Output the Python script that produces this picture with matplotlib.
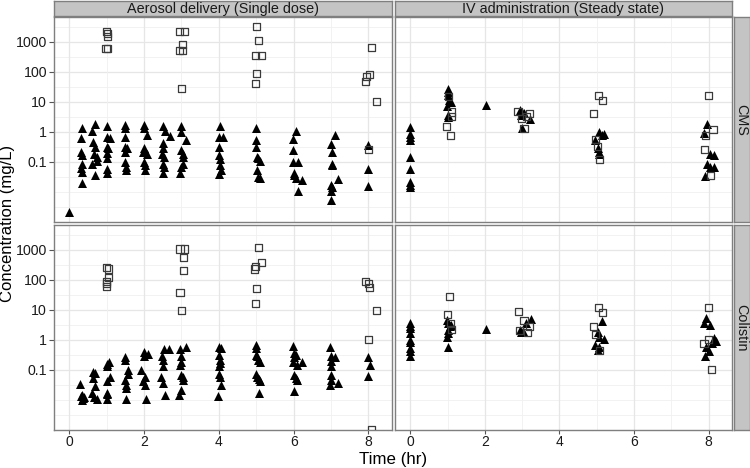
import numpy as np
import matplotlib
matplotlib.use("Agg")
import matplotlib.pyplot as plt
from matplotlib.ticker import FixedLocator, NullFormatter

plt.rcParams['font.family'] = ['Liberation Sans', 'DejaVu Sans']

# ---------------- data ----------------
col_labels = ["Aerosol delivery (Single dose)", "IV administration (Steady state)"]
row_labels = ["CMS", "Colistin"]
y_ticks = [0.1, 1, 10, 100, 1000]
y_tick_labels = ["0.1", "1", "10", "100", "1000"]
x_ticks = [0, 2, 4, 6, 8]

# CMS, aerosol: triangles (plasma) and squares (ELF)
cms_aer_tri_t = [0.0,
    0.33, 0.30, 0.31, 0.33, 0.35, 0.32, 0.34, 0.33,
    0.69, 0.60, 0.64, 0.69, 0.67, 0.73, 0.73, 0.60, 0.69,
    1.00, 1.00, 1.09, 1.00, 1.04, 1.00, 1.00, 1.00, 1.00,
    1.50, 1.50, 1.50, 1.50, 1.53, 1.50, 1.50, 1.52, 1.52,
    2.00, 2.00, 2.07, 2.00, 1.97, 2.07, 2.00, 2.03, 2.03,
    2.50, 2.55, 2.69, 2.50, 2.50, 2.48, 2.52, 2.50, 2.52, 2.50,
    3.00, 3.00, 3.12, 3.00, 3.03, 3.05, 3.03, 3.00, 2.97,
    4.03, 4.00, 4.10, 4.00, 4.00, 4.03, 4.03, 4.05, 4.00,
    5.00, 5.00, 5.00, 5.02, 5.05, 5.10, 5.03, 5.05, 5.10,
    6.06, 5.99, 5.99, 5.99, 6.12, 6.00, 6.02, 6.05, 6.21, 6.12,
    7.10, 7.00, 7.02, 7.02, 7.02, 7.19, 7.00, 7.02, 7.00, 7.00,
    8.00, 8.00, 8.00]
cms_aer_tri_v = [0.0021,
    1.3, 0.63, 0.21, 0.17, 0.088, 0.063, 0.046, 0.019,
    1.8, 1.05, 0.47, 0.32, 0.19, 0.15, 0.105, 0.088, 0.036,
    1.55, 0.68, 0.62, 0.32, 0.28, 0.2, 0.13, 0.06, 0.041,
    1.7, 1.3, 0.68, 0.32, 0.28, 0.22, 0.1, 0.068, 0.055,
    1.7, 1.3, 0.77, 0.28, 0.22, 0.19, 0.1, 0.077, 0.053,
    1.55, 1.05, 0.72, 0.41, 0.28, 0.19, 0.15, 0.088, 0.068, 0.041,
    1.55, 1.0, 0.53, 0.24, 0.19, 0.15, 0.088, 0.068, 0.041,
    1.6, 0.68, 0.66, 0.32, 0.17, 0.12, 0.077, 0.053, 0.039,
    1.3, 0.53, 0.32, 0.15, 0.13, 0.11, 0.053, 0.032, 0.028,
    1.08, 0.56, 0.24, 0.1, 0.1, 0.041, 0.036, 0.028, 0.024, 0.011,
    0.8, 0.38, 0.215, 0.088, 0.077, 0.026, 0.017, 0.015, 0.011, 0.0053,
    0.36, 0.06, 0.0155]
cms_aer_sq_t = [1.00, 1.02, 1.02, 0.98, 1.02,
    2.95, 3.09, 3.02, 2.95, 3.03, 3.00,
    5.00, 5.06, 4.97, 5.15, 5.00, 4.98,
    8.07, 8.04, 7.95, 7.93, 8.22, 7.99]
cms_aer_sq_v = [2300, 1900, 1550, 600, 600,
    2300, 2300, 810, 500, 500, 28,
    3300, 1150, 340, 360, 87, 41,
    630, 83, 72, 47, 10, 0.26]

# CMS, IV
cms_iv_tri_t = [0, 0, 0, 0, 0, 0, 0, 0, 0,
    1.00, 1.00, 1.02, 1.05, 1.10, 0.98, 1.02, 1.00,
    2.02,
    2.95, 3.00, 3.05, 2.98, 3.22, 3.00,
    5.05, 5.19, 5.14, 4.96, 5.03, 5.05, 5.07,
    7.95, 7.88, 8.03, 8.15, 7.95, 8.15, 8.03, 7.90]
cms_iv_tri_v = [1.4, 0.88, 0.68, 0.55, 0.147, 0.06, 0.0215, 0.0175, 0.0147,
    26, 21.5, 16.7, 11.4, 10, 7.2, 3.6, 3.2,
    8.1,
    5.5, 4.6, 4.1, 3.6, 2.6, 1.3,
    1.0, 0.88, 0.77, 0.53, 0.28, 0.22, 0.19,
    1.8, 0.95, 0.18, 0.167, 0.088, 0.066, 0.066, 0.033]
cms_iv_sq_t = [1.02, 1.10, 1.10, 0.96, 1.09,
    2.89, 3.20, 2.99, 3.11, 3.05,
    5.05, 5.16, 4.92, 4.98, 5.03, 5.07,
    7.99, 8.12, 7.93, 7.89, 8.05]
cms_iv_sq_v = [14.7, 4.6, 3.2, 1.55, 0.78,
    4.9, 4.1, 2.8, 3.2, 1.3,
    16.7, 11.4, 4.1, 0.55, 0.32, 0.12,
    16.5, 1.2, 0.75, 0.25, 0.034]

# Colistin, aerosol
col_aer_tri_t = [0.29, 0.33, 0.30, 0.36, 0.33, 0.38,
    0.62, 0.68, 0.64, 0.68, 0.60, 0.67, 0.73,
    1.07, 1.02, 1.02, 1.09, 1.00, 1.00, 1.00, 1.00,
    1.49, 1.50, 1.58, 1.58, 1.49, 1.52, 1.52, 1.52,
    2.00, 2.11, 2.00, 1.93, 2.02, 1.98, 2.02, 2.05,
    2.54, 2.67, 2.47, 2.50, 2.50, 2.45, 2.50, 2.56,
    3.12, 2.96, 2.98, 3.00, 2.96, 2.98, 3.05, 3.03, 3.00, 2.94,
    4.00, 4.05, 4.00, 4.02, 4.02, 4.00, 4.00, 4.03, 4.05, 3.98,
    4.98, 5.00, 4.98, 5.02, 5.05, 5.10, 4.98, 5.02, 5.06, 5.10, 5.06,
    5.98, 6.00, 6.05, 6.00, 5.99, 6.23, 6.10, 6.00, 6.05, 6.10, 6.00,
    6.98, 6.99, 7.10, 7.00, 6.99, 6.99, 7.00, 7.18, 6.98,
    8.00, 8.04, 8.00]
col_aer_tri_v = [0.034, 0.0147, 0.013, 0.0115, 0.01, 0.0125,
    0.088, 0.077, 0.053, 0.029, 0.0167, 0.012, 0.0105,
    0.19, 0.16, 0.13, 0.06, 0.041, 0.0175, 0.016, 0.0105,
    0.26, 0.22, 0.1, 0.073, 0.046, 0.032, 0.025, 0.0105,
    0.38, 0.34, 0.28, 0.1, 0.06, 0.041, 0.032, 0.0105,
    0.49, 0.49, 0.29, 0.22, 0.13, 0.06, 0.036, 0.0147,
    0.6, 0.49, 0.29, 0.19, 0.14, 0.068, 0.06, 0.047, 0.0215, 0.0147,
    0.6, 0.53, 0.32, 0.22, 0.17, 0.13, 0.074, 0.06, 0.032, 0.013,
    0.68, 0.53, 0.32, 0.28, 0.22, 0.19, 0.074, 0.06, 0.049, 0.041, 0.0175,
    0.63, 0.36, 0.32, 0.26, 0.19, 0.19, 0.14, 0.068, 0.053, 0.047, 0.019,
    0.57, 0.29, 0.26, 0.2, 0.13, 0.068, 0.047, 0.036, 0.032,
    0.26, 0.15, 0.063]
col_aer_sq_t = [1.00, 1.04, 1.04, 1.00, 0.99, 0.99,
    2.96, 3.09, 3.05, 3.05, 2.96, 2.99,
    5.05, 5.14, 4.99, 4.96, 5.01, 4.99,
    7.93, 7.99, 8.04, 8.22, 7.99, 8.08]
col_aer_sq_v = [263, 230, 123, 88, 77, 60,
    1070, 1070, 550, 200, 38, 9.3,
    1230, 390, 278, 230, 50, 16.7,
    88, 74, 57, 9.5, 1.05, 0.001]

# Colistin, IV
col_iv_tri_t = [0, 0, 0, 0, 0, 0, 0, 0, 0,
    0.99, 1.00, 1.10, 1.06, 1.00, 1.00, 0.99, 1.02,
    2.02,
    3.23, 3.11, 2.93, 3.02, 2.98,
    5.14, 5.03, 5.05, 5.19, 4.96, 5.07, 5.03,
    7.94, 7.88, 8.03, 8.15, 8.19, 8.10, 7.94, 8.01, 7.90]
col_iv_tri_v = [3.6, 2.9, 2.45, 1.67, 1.0, 0.88, 0.53, 0.44, 0.28,
    4.6, 3.6, 3.2, 2.8, 2.15, 1.67, 1.29, 0.6,
    2.3,
    4.9, 3.6, 2.15, 2.0, 1.9,
    4.1, 1.9, 1.29, 1.05, 0.68, 0.6, 0.47,
    5.3, 3.6, 3.2, 1.13, 0.95, 0.77, 0.57, 0.41, 0.28]
col_iv_sq_t = [1.04, 1.00, 1.09, 1.10,
    2.90, 3.05, 3.20, 2.93, 3.15,
    5.05, 5.16, 4.92, 4.96, 5.07,
    7.99, 7.99, 7.88, 8.08]
col_iv_sq_v = [28, 7.2, 3.6, 2.15,
    8.8, 4.4, 2.8, 2.1, 1.75,
    12, 8.1, 2.8, 1.47, 0.44,
    12, 1.0, 0.74, 0.105]

panels = {
    (0, 0): (cms_aer_tri_t, cms_aer_tri_v, cms_aer_sq_t, cms_aer_sq_v),
    (0, 1): (cms_iv_tri_t, cms_iv_tri_v, cms_iv_sq_t, cms_iv_sq_v),
    (1, 0): (col_aer_tri_t, col_aer_tri_v, col_aer_sq_t, col_aer_sq_v),
    (1, 1): (col_iv_tri_t, col_iv_tri_v, col_iv_sq_t, col_iv_sq_v),
}

# ---------------- layout ----------------
W, H = 750, 468
fig = plt.figure(figsize=(W / 100, H / 100), dpi=100)

col_x = [(54, 392), (395, 732)]
row_y = [(17, 222), (225, 430)]

def frac_box(x0, x1, y0, y1):
    return [x0 / W, 1 - y1 / H, (x1 - x0) / W, (y1 - y0) / H]

border = '#7f7f7f'
strip_fc = '#c4c4c4'
ylo, yhi = 10 ** -3.005, 10 ** 3.83
xlo, xhi = -0.41, 8.63

minor_y = [10 ** (e / 2) for e in range(-7, 9) if e % 2 != 0] + [0.01, 0.001]

for (r, c), (tt, tv, st, sv) in panels.items():
    x0, x1 = col_x[c]
    y0, y1 = row_y[r]
    ax = fig.add_axes(frac_box(x0, x1, y0, y1))
    ax.set_yscale('log')
    ax.set_xlim(xlo, xhi)
    ax.set_ylim(ylo, yhi)
    for yv in minor_y:
        ax.axhline(yv, color='#f0f0f0', lw=0.6, zorder=0)
    for yv in y_ticks:
        ax.axhline(yv, color='#e6e6e6', lw=0.9, zorder=0)
    for xv in [1, 3, 5, 7]:
        ax.axvline(xv, color='#f0f0f0', lw=0.6, zorder=0)
    for xv in x_ticks:
        ax.axvline(xv, color='#e6e6e6', lw=0.9, zorder=0)
    ax.scatter(tt, tv, marker='^', s=42, color='black', linewidths=0, zorder=3)
    ax.scatter(st, sv, marker='s', s=26, facecolors='none', edgecolors='#3a3a3a',
               linewidths=0.9, zorder=4)
    ax.yaxis.set_minor_locator(FixedLocator([]))
    ax.yaxis.set_minor_formatter(NullFormatter())
    for sp in ax.spines.values():
        sp.set_color(border)
        sp.set_linewidth(1.0)
    if c == 0:
        ax.set_yticks(y_ticks)
        ax.set_yticklabels(y_tick_labels, fontsize=10.2, color='#1a1a1a')
        ax.tick_params(axis='y', length=3.5, color='#555555', width=0.8, pad=1.5)
    else:
        ax.set_yticks([])
    if r == 1:
        ax.set_xticks(x_ticks)
        ax.set_xticklabels([str(v) for v in x_ticks], fontsize=10.0, color='#1a1a1a')
        ax.tick_params(axis='x', length=3, color='#555555', width=0.8, pad=0.8)
    else:
        ax.set_xticks([])

# top strips
for c, lab in enumerate(col_labels):
    x0, x1 = col_x[c]
    sax = fig.add_axes(frac_box(x0, x1, 0.5, 15.5))
    sax.set_facecolor(strip_fc)
    sax.set_xticks([]); sax.set_yticks([])
    for sp in sax.spines.values():
        sp.set_color(border); sp.set_linewidth(1.0)
    sax.text(0.5, 0.42, lab, ha='center', va='center', fontsize=10.4,
             color='#1a1a1a', transform=sax.transAxes)

# right strips
for r, lab in enumerate(row_labels):
    y0, y1 = row_y[r]
    sax = fig.add_axes(frac_box(734, 749.5, y0, y1))
    sax.set_facecolor(strip_fc)
    sax.set_xticks([]); sax.set_yticks([])
    for sp in sax.spines.values():
        sp.set_color(border); sp.set_linewidth(1.0)
    sax.text(0.45, 0.5, lab, ha='center', va='center', fontsize=10.4, rotation=-90,
             color='#1a1a1a', transform=sax.transAxes)

fig.text(8 / W, 1 - 223 / H, "Concentration (mg/L)", rotation=90, ha='center',
         va='center', fontsize=12, color='black')
fig.text(393 / W, 1 - 459.5 / H, "Time (hr)", ha='center', va='center',
         fontsize=12.2, color='black')

fig.savefig("out.png", dpi=100)
